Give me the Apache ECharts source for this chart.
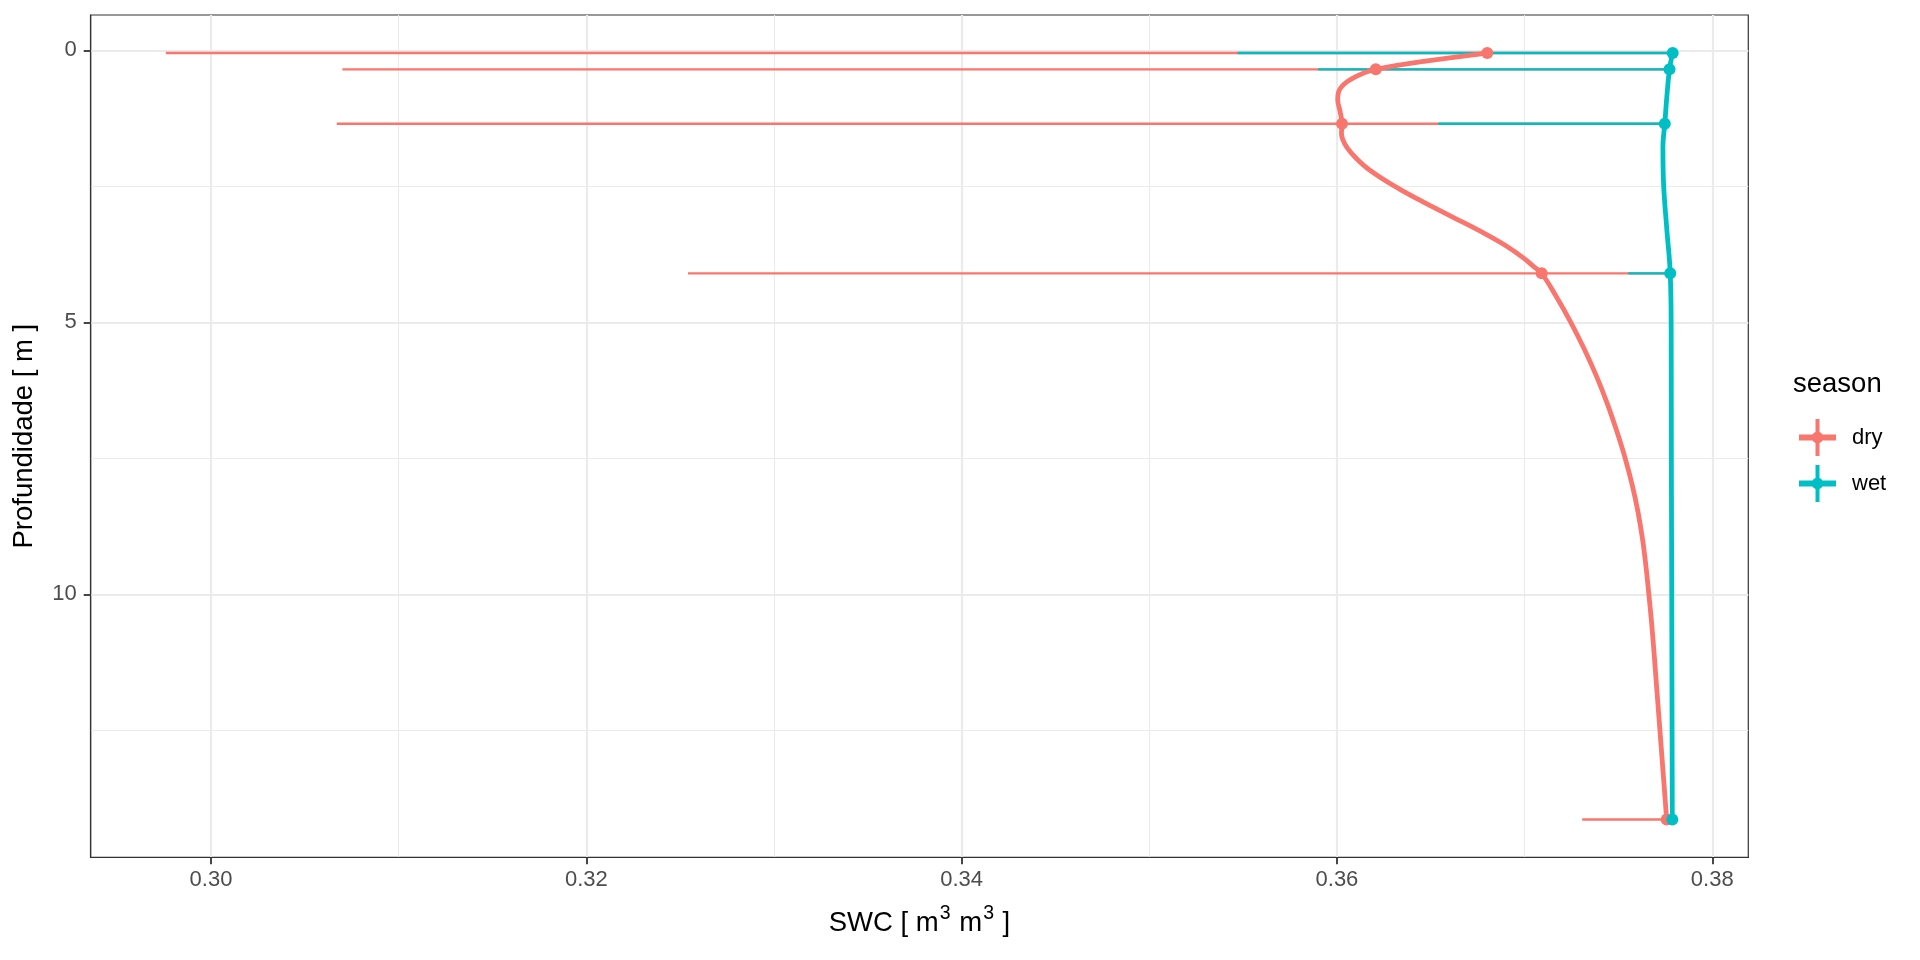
<!DOCTYPE html>
<html>
<head>
<meta charset="utf-8">
<script src="https://cdn.jsdelivr.net/npm/echarts@6/dist/echarts.min.js"></script>
<style>
  html, body { margin: 0; padding: 0; background: #ffffff; }
  #chart { width: 1920px; height: 960px; }
</style>
</head>
<body>
<div id="chart"></div>
<script>
// ---- data ----
const depth   = [0.05, 0.35, 1.35, 4.1, 14.14];
const dryMean = [0.36801, 0.36207, 0.36027, 0.37091, 0.37757];
const dryLow  = [0.29759, 0.30700, 0.30670, 0.32542, 0.37307];
const dryHigh = [0.37785, 0.37770, 0.37745, 0.37775, 0.37780];
const wetMean = [0.37789, 0.37772, 0.37747, 0.37776, 0.37787];
const wetLow  = [0.35471, 0.35899, 0.36540, 0.37552, 0.37787];
const wetHigh = [0.37789, 0.37772, 0.37747, 0.37776, 0.37787];

// smooth profile curves
const dryCurveDepth = [0.05, 0.20, 0.35, 0.42, 0.58, 0.76, 0.91, 1.13, 1.35, 1.53, 1.71, 1.89, 2.11, 2.32, 2.57, 2.81, 3.07, 3.33, 3.58, 3.82, 3.98, 4.10, 4.50, 5.00, 5.50, 6.00, 6.50, 7.00, 7.50, 8.00, 8.50, 9.00, 9.50, 10.00, 10.50, 11.00, 11.50, 12.00, 12.50, 13.00, 13.50, 14.14];
const dryCurveSWC   = [0.36801, 0.36472, 0.36207, 0.36141, 0.36053, 0.36009, 0.36004, 0.36017, 0.36027, 0.36024, 0.36040, 0.36077, 0.36141, 0.36224, 0.36343, 0.36472, 0.36619, 0.36766, 0.36894, 0.36995, 0.37050, 0.37091, 0.37164, 0.37246, 0.37319, 0.37384, 0.37441, 0.37491, 0.37536, 0.37574, 0.37605, 0.37629, 0.37647, 0.37662, 0.37676, 0.37688, 0.37699, 0.37710, 0.37721, 0.37732, 0.37743, 0.37757];
const wetCurveDepth = [0.05, 0.35, 0.85, 1.35, 1.77, 2.49, 3.30, 4.10, 5.14, 7.5, 10.0, 14.14];
const wetCurveSWC   = [0.37789, 0.37772, 0.37758, 0.37747, 0.37737, 0.37741, 0.37758, 0.37776, 0.37781, 0.37782, 0.37784, 0.37787];

const xMajorTicks = [0.30, 0.32, 0.34, 0.36, 0.38];
const xMinorTicks = [0.31, 0.33, 0.35, 0.37];
const yMajorTicks = [0, 5, 10];
const yMinorTicks = [2.5, 7.5, 12.5];
const seasons = ['dry', 'wet'];

// ---- styling ----
const X_MIN = 0.29359, X_MAX = 0.38192;
const Y_MIN = -0.649, Y_MAX = 14.835;
const DRY = '#F8766D', WET = '#00BFC4';
const FONT = "'Liberation Sans', Arial, Helvetica, sans-serif";
// union of horizontal bar, vertical bar and centre dot, as one outline
const KEY = 'path://M0 15.5 L13.54 15.5 A5.8 5.8 0 0 1 16.5 13.06 L16.5 0 L20.5 0 L20.5 13.06 A5.8 5.8 0 0 1 23.46 15.5 L37 15.5 L37 21.5 L23.46 21.5 A5.8 5.8 0 0 1 20.5 23.94 L20.5 37 L16.5 37 L16.5 23.94 A5.8 5.8 0 0 1 13.54 21.5 L0 21.5 Z';

function errData(low, high) {
  return depth.map((d, i) => [low[i], high[i], d]);
}
function pairs(xs, ys) { return xs.map((x, i) => [x, ys[i]]); }

function errSeries(name, color, low, high) {
  return {
    name: name, type: 'custom', xAxisIndex: 0, yAxisIndex: 0, z: 2,
    itemStyle: { color: color },
    encode: { x: [0, 1], y: 2 },
    data: errData(low, high),
    renderItem: function (params, api) {
      const a = api.coord([api.value(0), api.value(2)]);
      const b = api.coord([api.value(1), api.value(2)]);
      return { type: 'line', shape: { x1: a[0], y1: a[1], x2: b[0], y2: b[1] },
               style: { stroke: color, lineWidth: 2.4 } };
    }
  };
}

const chart = echarts.init(document.getElementById('chart'), null, { renderer: 'canvas' });
const option = {
  animation: false,
  backgroundColor: '#ffffff',
  textStyle: { fontFamily: FONT },
  grid: { left: 90.7, right: 171.7, top: 15, bottom: 102.7, show: true,
          borderColor: '#333333', borderWidth: 1.2, backgroundColor: 'transparent' },
  title: { text: 'season', left: 1793, top: 370, padding: 0,
           textStyle: { fontSize: 27.5, fontWeight: 'normal', color: '#000', fontFamily: FONT } },
  legend: {
    orient: 'vertical', left: 1794, top: 414, itemWidth: 37, itemHeight: 37, itemGap: 9,
    data: seasons.map(s => ({ name: s, icon: KEY })),
    itemStyle: { borderWidth: 0 },
    textStyle: { fontSize: 22, color: '#000', fontFamily: FONT, padding: [0, 0, 0, 11] }
  },
  xAxis: [
    {
      type: 'value', min: X_MIN, max: X_MAX, position: 'bottom',
      axisLine: { show: true, onZero: false, lineStyle: { color: '#333333', width: 1.2 } },
      axisTick: { show: true, length: 7, customValues: xMajorTicks, lineStyle: { color: '#333333', width: 1.8 } },
      axisLabel: { customValues: xMajorTicks, formatter: v => v.toFixed(2), fontSize: 22, color: '#4D4D4D', margin: 12, fontFamily: FONT },
      splitLine: { show: true, lineStyle: { color: '#EBEBEB', width: 2.2 } },
      name: '{a|SWC [ m}{s|3}{a| m}{s|3}{a| ]}',
      nameLocation: 'middle', nameGap: 46,
      nameTextStyle: { fontFamily: FONT, color: '#000', fontSize: 27.5,
        rich: { a: { fontSize: 27.5, color: '#000', fontFamily: FONT, lineHeight: 34, verticalAlign: 'bottom' },
                s: { fontSize: 19.5, color: '#000', fontFamily: FONT, lineHeight: 20, verticalAlign: 'top', padding: [0, 1, 0, 1] } } }
    },
    {
      type: 'value', min: X_MIN, max: X_MAX, position: 'bottom',
      axisLine: { show: false, onZero: false }, axisLabel: { show: false },
      axisTick: { show: false, customValues: xMinorTicks },
      splitLine: { show: true, lineStyle: { color: '#EBEBEB', width: 1.1 } }
    }
  ],
  yAxis: [
    {
      type: 'value', inverse: true, min: Y_MIN, max: Y_MAX, position: 'left',
      axisLine: { show: true, onZero: false, lineStyle: { color: '#333333', width: 1.2 } },
      axisTick: { show: true, length: 7, customValues: yMajorTicks, lineStyle: { color: '#333333', width: 1.8 } },
      axisLabel: { customValues: yMajorTicks, fontSize: 22, color: '#4D4D4D', margin: 14, fontFamily: FONT },
      splitLine: { show: true, lineStyle: { color: '#EBEBEB', width: 2.2 } },
      name: 'Profundidade [ m ]', nameLocation: 'middle', nameGap: 52,
      nameTextStyle: { fontFamily: FONT, color: '#000', fontSize: 27.5 }
    },
    {
      type: 'value', inverse: true, min: Y_MIN, max: Y_MAX, position: 'left',
      axisLine: { show: false, onZero: false }, axisLabel: { show: false },
      axisTick: { show: false, customValues: yMinorTicks },
      splitLine: { show: true, lineStyle: { color: '#EBEBEB', width: 1.1 } }
    }
  ],
  series: [
    errSeries('dry', DRY, dryLow, dryHigh),
    errSeries('wet', WET, wetLow, wetHigh),
    { name: 'dry', type: 'line', z: 3, xAxisIndex: 0, yAxisIndex: 0, showSymbol: false, smooth: 0.4,
      itemStyle: { color: DRY }, lineStyle: { color: DRY, width: 4.8 }, data: pairs(dryCurveSWC, dryCurveDepth) },
    { name: 'wet', type: 'line', z: 3, xAxisIndex: 0, yAxisIndex: 0, showSymbol: false, smooth: 0.4,
      itemStyle: { color: WET }, lineStyle: { color: WET, width: 4.8 }, data: pairs(wetCurveSWC, wetCurveDepth) },
    { name: 'dry', type: 'scatter', z: 4, xAxisIndex: 0, yAxisIndex: 0, symbol: 'circle', symbolSize: 12,
      itemStyle: { color: DRY, opacity: 1 }, data: pairs(dryMean, depth) },
    { name: 'wet', type: 'scatter', z: 4, xAxisIndex: 0, yAxisIndex: 0, symbol: 'circle', symbolSize: 12,
      itemStyle: { color: WET, opacity: 1 }, data: pairs(wetMean, depth) }
  ]
};
chart.setOption(option);
</script>
</body>
</html>
